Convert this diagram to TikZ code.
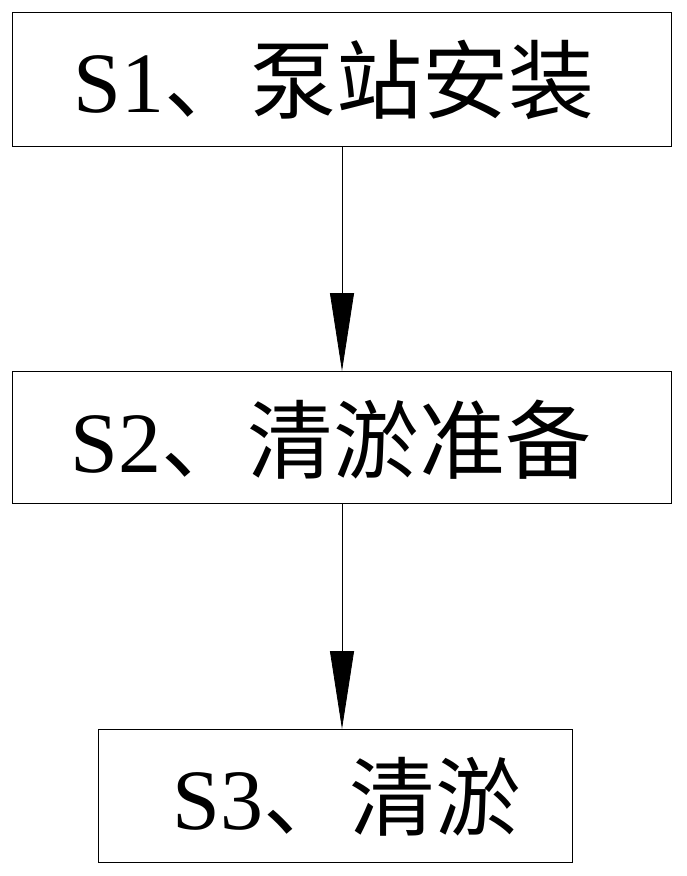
\documentclass[tikz,border=0pt]{standalone}
\usepackage{fontspec}
\setmainfont{Liberation Serif}
\newfontfamily\cjk{Noto Sans CJK SC}
\usetikzlibrary{arrows.meta}
\begin{document}
\begin{tikzpicture}[x=1pt,y=-1pt,
  stepbox/.style={draw,line width=0.8pt,inner sep=0pt},
  lbl/.style={font=\fontsize{86}{90}\selectfont},
  arr/.style={line width=0.8pt,-{Triangle[length=78pt,width=24pt]}}]
\useasboundingbox (0,0) rectangle (686,876);
\draw[stepbox] (12,12) rectangle (671,146);
\draw[stepbox] (12,371) rectangle (671,503);
\draw[stepbox] (98,729) rectangle (572,862);
\node[lbl] (t1) at (334,80) {S1{\cjk 、泵站安装}};
\node[lbl] (t2) at (331,440) {S2{\cjk 、清淤准备}};
\node[lbl] (t3) at (347,797) {S3{\cjk 、清淤}};
\coordinate (a1) at (342,146); \coordinate (b1) at (342,371);
\coordinate (a2) at (342,503); \coordinate (b2) at (342,729);
\draw[arr] (a1) -- (b1);
\draw[arr] (a2) -- (b2);
\end{tikzpicture}
\end{document}
